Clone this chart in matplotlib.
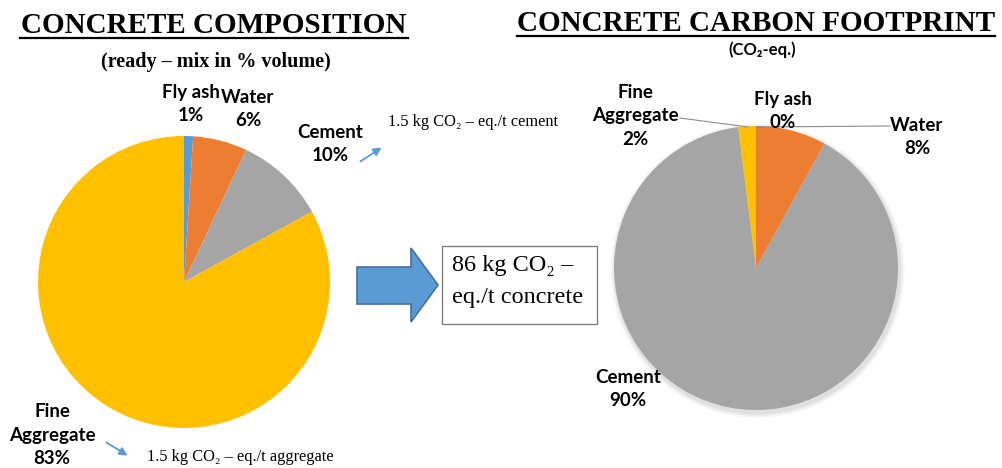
import matplotlib
matplotlib.use('Agg')
import matplotlib.pyplot as plt
from matplotlib.patches import Polygon, Rectangle, Circle, FancyArrowPatch
from matplotlib.lines import Line2D

# data
materials = ['Fly ash', 'Water', 'Cement', 'Fine Aggregate']
composition = [1, 6, 10, 83]      # % volume
footprint = [0, 8, 90, 2]         # % CO2-eq
pie_colors = ['#5B9BD5', '#ED7D31', '#A5A5A5', '#FFC000']
box_text = ['86 kg CO₂ –', 'eq./t concrete']
cement_note = '1.5 kg CO₂ – eq./t cement'
aggregate_note = '1.5 kg CO₂ – eq./t aggregate'

W, H = 1002, 468
fig = plt.figure(figsize=(W / 100, H / 100), dpi=100)

def fx(x):
    return x / W

def fy(y):
    return 1 - y / H

serif = ['Liberation Serif', 'DejaVu Serif']
sans = ['Lato', 'DejaVu Sans']

def pie_axes(cx, cy, r):
    ax = fig.add_axes([fx(cx - r), fy(cy + r), 2 * r / W, 2 * r / H])
    ax.axis('off')
    return ax

# left pie - composition
ax1 = pie_axes(184, 282, 146)
ax1.pie(composition, colors=pie_colors, startangle=90, counterclock=False,
        radius=1, wedgeprops={'linewidth': 0})
ax1.set_xlim(-1, 1)
ax1.set_ylim(-1, 1)

# right pie - carbon footprint, with a faint shadow
ax2 = pie_axes(756, 268, 142)
for i, a in enumerate([0.05, 0.04, 0.03]):
    ax2.add_patch(Circle((0.01, -0.02), 1.0 + 0.012 * (i + 1), color='black',
                         alpha=a, lw=0, zorder=0, clip_on=False))
ax2.pie(footprint, colors=pie_colors, startangle=90, counterclock=False,
        radius=1, wedgeprops={'linewidth': 0})
ax2.set_xlim(-1, 1)
ax2.set_ylim(-1, 1)

# titles
def title(text, x, y, x0, x1, uy):
    fig.text(fx(x), fy(y), text, family=serif, weight='bold', fontsize=21,
             ha='center', va='baseline')
    fig.add_artist(Line2D([fx(x0), fx(x1)], [fy(uy), fy(uy)], color='black', lw=1.6))

title('CONCRETE COMPOSITION', 214, 33, 20, 408, 38)
title('CONCRETE CARBON FOOTPRINT', 756, 31, 517, 995, 36)
fig.text(fx(216), fy(62), '(ready – mix in % volume)', family=serif, weight='bold',
         fontsize=14.5, ha='center', va='center')
fig.text(fx(762), fy(50), '(CO₂-eq.)', family=sans, weight='bold',
         fontsize=12, ha='center', va='center')

# pie labels
def label(x, y, text):
    fig.text(fx(x), fy(y), text, family=sans, weight='bold', fontsize=13.5,
             ha='center', va='center', linespacing=1.45)

pct = [f'{v}%' for v in composition]
label(191, 104, materials[0] + '\n' + pct[0])
label(248, 109, materials[1] + '\n' + pct[1])
label(330, 144, materials[2] + '\n' + pct[2])
label(52, 435, 'Fine\nAggregate\n' + pct[3])

pct2 = [f'{v}%' for v in footprint]
label(783, 111, materials[0] + '\n' + pct2[0])
label(917, 137, materials[1] + '\n' + pct2[1])
label(628, 389, materials[2] + '\n' + pct2[2])
label(635, 116, 'Fine\nAggregate\n' + pct2[3])

# leader lines on right pie
fig.add_artist(Line2D([fx(680), fx(748)], [fy(118), fy(127)], color='#8c8c8c', lw=0.8))
fig.add_artist(Line2D([fx(757), fx(890)], [fy(127), fy(126)], color='#8c8c8c', lw=0.8))

# notes with small arrows
arrow_kw = dict(arrowstyle='-|>', color='#5B9BD5', lw=1.3, mutation_scale=12)
fig.add_artist(FancyArrowPatch((fx(358), fy(163)), (fx(384), fy(146)),
                               transform=fig.transFigure, **arrow_kw))
fig.text(fx(388), fy(122), cement_note, family=serif, fontsize=11.8, ha='left', va='center')
fig.add_artist(FancyArrowPatch((fx(104), fy(441)), (fx(130), fy(457)),
                               transform=fig.transFigure, **arrow_kw))
fig.text(fx(147), fy(457), aggregate_note, family=serif, fontsize=11.8, ha='left', va='center')

# block arrow in the middle
arrow_pts = [(357, 267), (411, 267), (411, 248), (438, 285), (411, 322),
             (411, 304), (357, 304)]
fig.add_artist(Polygon([(fx(x), fy(y)) for x, y in arrow_pts], closed=True,
                       facecolor='#5B9BD5', edgecolor='#41719C', lw=1.2,
                       transform=fig.transFigure))

# text box
fig.add_artist(Rectangle((fx(442), fy(324)), fx(597) - fx(442), fy(246) - fy(324),
                         facecolor='white', edgecolor='#7f7f7f', lw=1.0,
                         transform=fig.transFigure))
fig.text(fx(452), fy(265), box_text[0], family=serif, fontsize=17.5, ha='left', va='center')
fig.text(fx(452), fy(298), box_text[1], family=serif, fontsize=17.5, ha='left', va='center')

fig.savefig('out.png', dpi=100)
